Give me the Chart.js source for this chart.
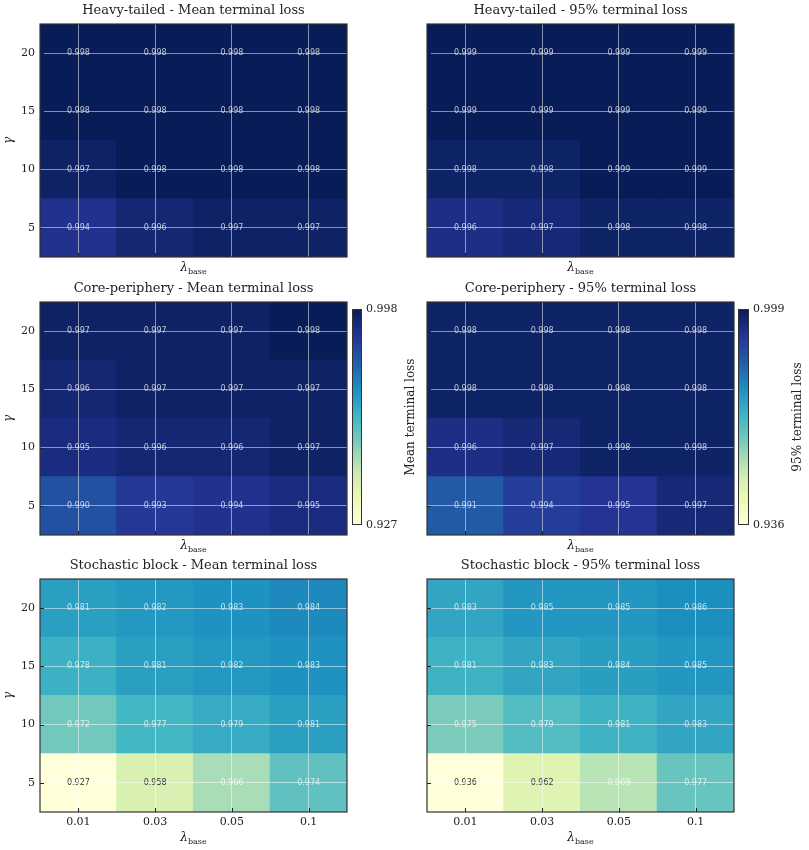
<!DOCTYPE html>
<html>
<head>
<meta charset="utf-8">
<title>Terminal loss sensitivity</title>
<script src="https://cdn.jsdelivr.net/npm/chart.js"></script>
<style>
    html, body { margin: 0; padding: 0; background: #fff; }
    #figure { position: relative; width: 809px; height: 850px; overflow: hidden; }
    #figure canvas { position: absolute; }
</style>
</head>
<body>
<div id="figure">
    <canvas id="heavyMean"></canvas>
    <canvas id="heavyQ95"></canvas>
    <canvas id="coreMean"></canvas>
    <canvas id="coreQ95"></canvas>
    <canvas id="sbmMean"></canvas>
    <canvas id="sbmQ95"></canvas>
    <canvas id="cbarMean"></canvas>
    <canvas id="cbarQ95"></canvas>
</div>
<script>
// Terminal loss grids over lambda_base (columns) and gamma (rows)

const lambdaLabels = ['0.01', '0.03', '0.05', '0.1'];
const gammaValues = [5, 10, 15, 20];

// each table: one row per gamma (5, 10, 15, 20), one column per lambda
const heavyMean = [
    [0.994, 0.996, 0.997, 0.997],
    [0.997, 0.998, 0.998, 0.998],
    [0.998, 0.998, 0.998, 0.998],
    [0.998, 0.998, 0.998, 0.998]
];
const heavyQ95 = [
    [0.996, 0.997, 0.998, 0.998],
    [0.998, 0.998, 0.999, 0.999],
    [0.999, 0.999, 0.999, 0.999],
    [0.999, 0.999, 0.999, 0.999]
];
const coreMean = [
    [0.990, 0.993, 0.994, 0.995],
    [0.995, 0.996, 0.996, 0.997],
    [0.996, 0.997, 0.997, 0.997],
    [0.997, 0.997, 0.997, 0.998]
];
const coreQ95 = [
    [0.991, 0.994, 0.995, 0.997],
    [0.996, 0.997, 0.998, 0.998],
    [0.998, 0.998, 0.998, 0.998],
    [0.998, 0.998, 0.998, 0.998]
];
const sbmMean = [
    [0.927, 0.958, 0.966, 0.974],
    [0.972, 0.977, 0.979, 0.981],
    [0.978, 0.981, 0.982, 0.983],
    [0.981, 0.982, 0.983, 0.984]
];
const sbmQ95 = [
    [0.936, 0.962, 0.969, 0.977],
    [0.975, 0.979, 0.981, 0.983],
    [0.981, 0.983, 0.984, 0.985],
    [0.983, 0.985, 0.985, 0.986]
];

// shared colour limits (colorbar ends)
const meanRange = [0.927, 0.998];
const q95Range = [0.936, 0.999];

const ylGnBu = ['#ffffd9', '#edf8b1', '#c7e9b4', '#7fcdbb', '#41b6c4',
                '#1d91c0', '#225ea8', '#253494', '#081d58'];

const serif = "'DejaVu Serif', 'Liberation Serif', serif";
const sans = "'DejaVu Sans', 'Liberation Sans', sans-serif";
const textColor = '#222';
const frameColor = '#333';
const gridColor = 'rgba(255, 255, 255, 0.5)';

function hexToRgb(hex) {
    const n = parseInt(hex.slice(1), 16);
    return [(n >> 16) & 255, (n >> 8) & 255, n & 255];
}

function cmap(t) {
    t = Math.min(1, Math.max(0, t));
    const pos = t * (ylGnBu.length - 1);
    const i = Math.min(Math.floor(pos), ylGnBu.length - 2);
    const f = pos - i;
    const a = hexToRgb(ylGnBu[i]);
    const b = hexToRgb(ylGnBu[i + 1]);
    const c = a.map((v, k) => Math.round(v + (b[k] - v) * f));
    return 'rgb(' + c.join(',') + ')';
}

function normalize(v, range) {
    return (v - range[0]) / (range[1] - range[0]);
}

// cells use a power norm (gamma 2)
function cellColor(v, range) {
    return cmap(Math.pow(normalize(v, range), 2));
}

// titles, axis labels, cell values, frame and inward ticks
const panelDecor = {
    id: 'panelDecor',
    afterDatasetsDraw(chart, args, opts) {
        const ctx = chart.ctx;
        ctx.save();
        ctx.font = '8px ' + sans;
        ctx.textAlign = 'center';
        ctx.textBaseline = 'middle';
        chart.data.datasets.forEach((ds, i) => {
            const meta = chart.getDatasetMeta(i);
            meta.data.forEach((bar, j) => {
                const v = ds.values[j];
                ctx.fillStyle = normalize(v, opts.range) > 0.5 ? 'rgba(255, 255, 255, 0.72)' : '#333';
                ctx.fillText(v.toFixed(3), bar.x, (bar.y + bar.base) / 2);
            });
        });
        ctx.restore();
    },
    afterDraw(chart, args, opts) {
        const ctx = chart.ctx;
        const area = chart.chartArea;
        const cx = (area.left + area.right) / 2;
        ctx.save();

        // frame
        ctx.strokeStyle = frameColor;
        ctx.lineWidth = 1.2;
        ctx.strokeRect(area.left, area.top, area.right - area.left, area.bottom - area.top);

        // inward tick marks
        ctx.lineWidth = 1;
        ctx.strokeStyle = '#222';
        chart.scales.y.ticks.forEach(t => {
            const py = Math.round(chart.scales.y.getPixelForValue(t.value)) + 0.5;
            ctx.beginPath();
            ctx.moveTo(area.left, py);
            ctx.lineTo(area.left + 4, py);
            ctx.stroke();
        });
        chart.scales.x.ticks.forEach((t, i) => {
            const px = Math.round(chart.scales.x.getPixelForTick(i)) + 0.5;
            ctx.beginPath();
            ctx.moveTo(px, area.bottom);
            ctx.lineTo(px, area.bottom - 4);
            ctx.stroke();
        });

        // title
        ctx.fillStyle = textColor;
        ctx.font = '13px ' + serif;
        ctx.textAlign = 'center';
        ctx.textBaseline = 'middle';
        ctx.fillText(opts.title, cx, area.top - 13);

        // x label: lambda_base
        const ly = area.bottom + opts.xLabelOffset;
        ctx.font = 'italic 12px ' + serif;
        const wL = ctx.measureText('λ').width;
        ctx.font = '8px ' + serif;
        const wB = ctx.measureText('base').width;
        const x0 = cx - (wL + wB) / 2;
        ctx.textAlign = 'left';
        ctx.font = 'italic 12px ' + serif;
        ctx.fillText('λ', x0, ly);
        ctx.font = '8px ' + serif;
        ctx.fillText('base', x0 + wL, ly + 4);

        // y label: gamma
        if (opts.showGamma) {
            ctx.translate(9, (area.top + area.bottom) / 2);
            ctx.rotate(-Math.PI / 2);
            ctx.textAlign = 'center';
            ctx.font = 'italic 12px ' + serif;
            ctx.fillText('γ', 0, 0);
        }
        ctx.restore();
    }
};

function makeHeatmap(id, cfg) {
    const canvas = document.getElementById(id);
    canvas.width = cfg.width;
    canvas.height = cfg.height;
    canvas.style.left = cfg.left + 'px';
    canvas.style.top = cfg.top + 'px';

    const halfStep = (gammaValues[1] - gammaValues[0]) / 2;
    const datasets = gammaValues.map((g, i) => ({
        label: 'gamma ' + g,
        data: lambdaLabels.map(() => [g - halfStep, g + halfStep]),
        values: cfg.values[i],
        backgroundColor: cfg.values[i].map(v => cellColor(v, cfg.range)),
        borderWidth: 0,
        inflateAmount: 0.5,
        barPercentage: 1,
        categoryPercentage: 1,
        grouped: false
    }));

    return new Chart(canvas, {
        type: 'bar',
        data: { labels: lambdaLabels, datasets: datasets },
        options: {
            responsive: false,
            animation: false,
            events: [],
            layout: { padding: { top: 24, right: 3, left: 0, bottom: 0 } },
            plugins: {
                legend: { display: false },
                tooltip: { enabled: false },
                panelDecor: {
                    title: cfg.title,
                    range: cfg.range,
                    showGamma: cfg.showY,
                    xLabelOffset: cfg.showX ? 26 : 11
                }
            },
            scales: {
                x: {
                    type: 'category',
                    offset: true,
                    grid: { z: 1, offset: false, color: gridColor, lineWidth: 1, drawTicks: false },
                    border: { display: false },
                    ticks: { display: cfg.showX, padding: 4, color: textColor, font: { family: serif, size: 11 } },
                    afterFit: s => { s.height = cfg.height - 24 - 233; }
                },
                y: {
                    type: 'linear',
                    min: gammaValues[0] - halfStep,
                    max: gammaValues[gammaValues.length - 1] + halfStep,
                    grid: { z: 1, color: gridColor, lineWidth: 1, drawTicks: false },
                    border: { display: false },
                    ticks: { display: cfg.showY, padding: 5, color: textColor, font: { family: serif, size: 11 } },
                    afterBuildTicks: s => { s.ticks = gammaValues.map(v => ({ value: v })); },
                    afterFit: s => { s.width = cfg.yWidth; }
                }
            }
        },
        plugins: [panelDecor]
    });
}

// colorbar: linear gradient over the same limits
const colorbarDecor = {
    id: 'colorbarDecor',
    beforeDatasetsDraw(chart) {
        const ctx = chart.ctx;
        const a = chart.chartArea;
        const grad = ctx.createLinearGradient(0, a.bottom, 0, a.top);
        ylGnBu.forEach((c, i) => grad.addColorStop(i / (ylGnBu.length - 1), c));
        ctx.save();
        ctx.fillStyle = grad;
        ctx.fillRect(a.left, a.top, a.right - a.left, a.bottom - a.top);
        ctx.strokeStyle = frameColor;
        ctx.lineWidth = 1;
        ctx.strokeRect(a.left + 0.5, a.top + 0.5, a.right - a.left - 1, a.bottom - a.top - 1);
        ctx.restore();
    },
    afterDraw(chart, args, opts) {
        const ctx = chart.ctx;
        const a = chart.chartArea;
        ctx.save();
        ctx.translate(a.right + 49, (a.top + a.bottom) / 2);
        ctx.rotate(-Math.PI / 2);
        ctx.fillStyle = textColor;
        ctx.font = '12px ' + serif;
        ctx.textAlign = 'center';
        ctx.textBaseline = 'middle';
        ctx.fillText(opts.label, 0, 0);
        ctx.restore();
    }
};

function makeColorbar(id, cfg) {
    const canvas = document.getElementById(id);
    canvas.width = cfg.width;
    canvas.height = 250;
    canvas.style.left = cfg.left + 'px';
    canvas.style.top = '290px';

    return new Chart(canvas, {
        type: 'scatter',
        data: { datasets: [{ data: [] }] },
        options: {
            responsive: false,
            animation: false,
            events: [],
            layout: { padding: { top: 19, bottom: 15, left: 2, right: 0 } },
            plugins: {
                legend: { display: false },
                tooltip: { enabled: false },
                colorbarDecor: { label: cfg.label }
            },
            scales: {
                x: { display: false },
                y: {
                    position: 'right',
                    min: cfg.range[0],
                    max: cfg.range[1],
                    grid: { display: false, drawTicks: false },
                    border: { display: false },
                    ticks: {
                        padding: 4,
                        color: textColor,
                        font: { family: serif, size: 11 },
                        callback: v => v.toFixed(3)
                    },
                    afterBuildTicks: s => { s.ticks = cfg.range.map(v => ({ value: v })); },
                    afterFit: s => { s.width = cfg.width - 2 - cfg.barWidth; }
                }
            }
        },
        plugins: [colorbarDecor]
    });
}

// left column
makeHeatmap('heavyMean', { left: 0, top: 0, width: 350, height: 280, yWidth: 40, showX: false, showY: true,
    values: heavyMean, range: meanRange, title: 'Heavy-tailed - Mean terminal loss' });
makeHeatmap('coreMean', { left: 0, top: 278, width: 350, height: 280, yWidth: 40, showX: false, showY: true,
    values: coreMean, range: meanRange, title: 'Core-periphery - Mean terminal loss' });
makeHeatmap('sbmMean', { left: 0, top: 555, width: 350, height: 295, yWidth: 40, showX: true, showY: true,
    values: sbmMean, range: meanRange, title: 'Stochastic block - Mean terminal loss' });

// right column
makeHeatmap('heavyQ95', { left: 380, top: 0, width: 357, height: 280, yWidth: 47, showX: false, showY: false,
    values: heavyQ95, range: q95Range, title: 'Heavy-tailed - 95% terminal loss' });
makeHeatmap('coreQ95', { left: 380, top: 278, width: 357, height: 280, yWidth: 47, showX: false, showY: false,
    values: coreQ95, range: q95Range, title: 'Core-periphery - 95% terminal loss' });
makeHeatmap('sbmQ95', { left: 380, top: 555, width: 357, height: 295, yWidth: 47, showX: true, showY: false,
    values: sbmQ95, range: q95Range, title: 'Stochastic block - 95% terminal loss' });

makeColorbar('cbarMean', { left: 350, width: 75, barWidth: 10, range: meanRange, label: 'Mean terminal loss' });
makeColorbar('cbarQ95', { left: 736, width: 73, barWidth: 11, range: q95Range, label: '95% terminal loss' });
</script>
</body>
</html>
